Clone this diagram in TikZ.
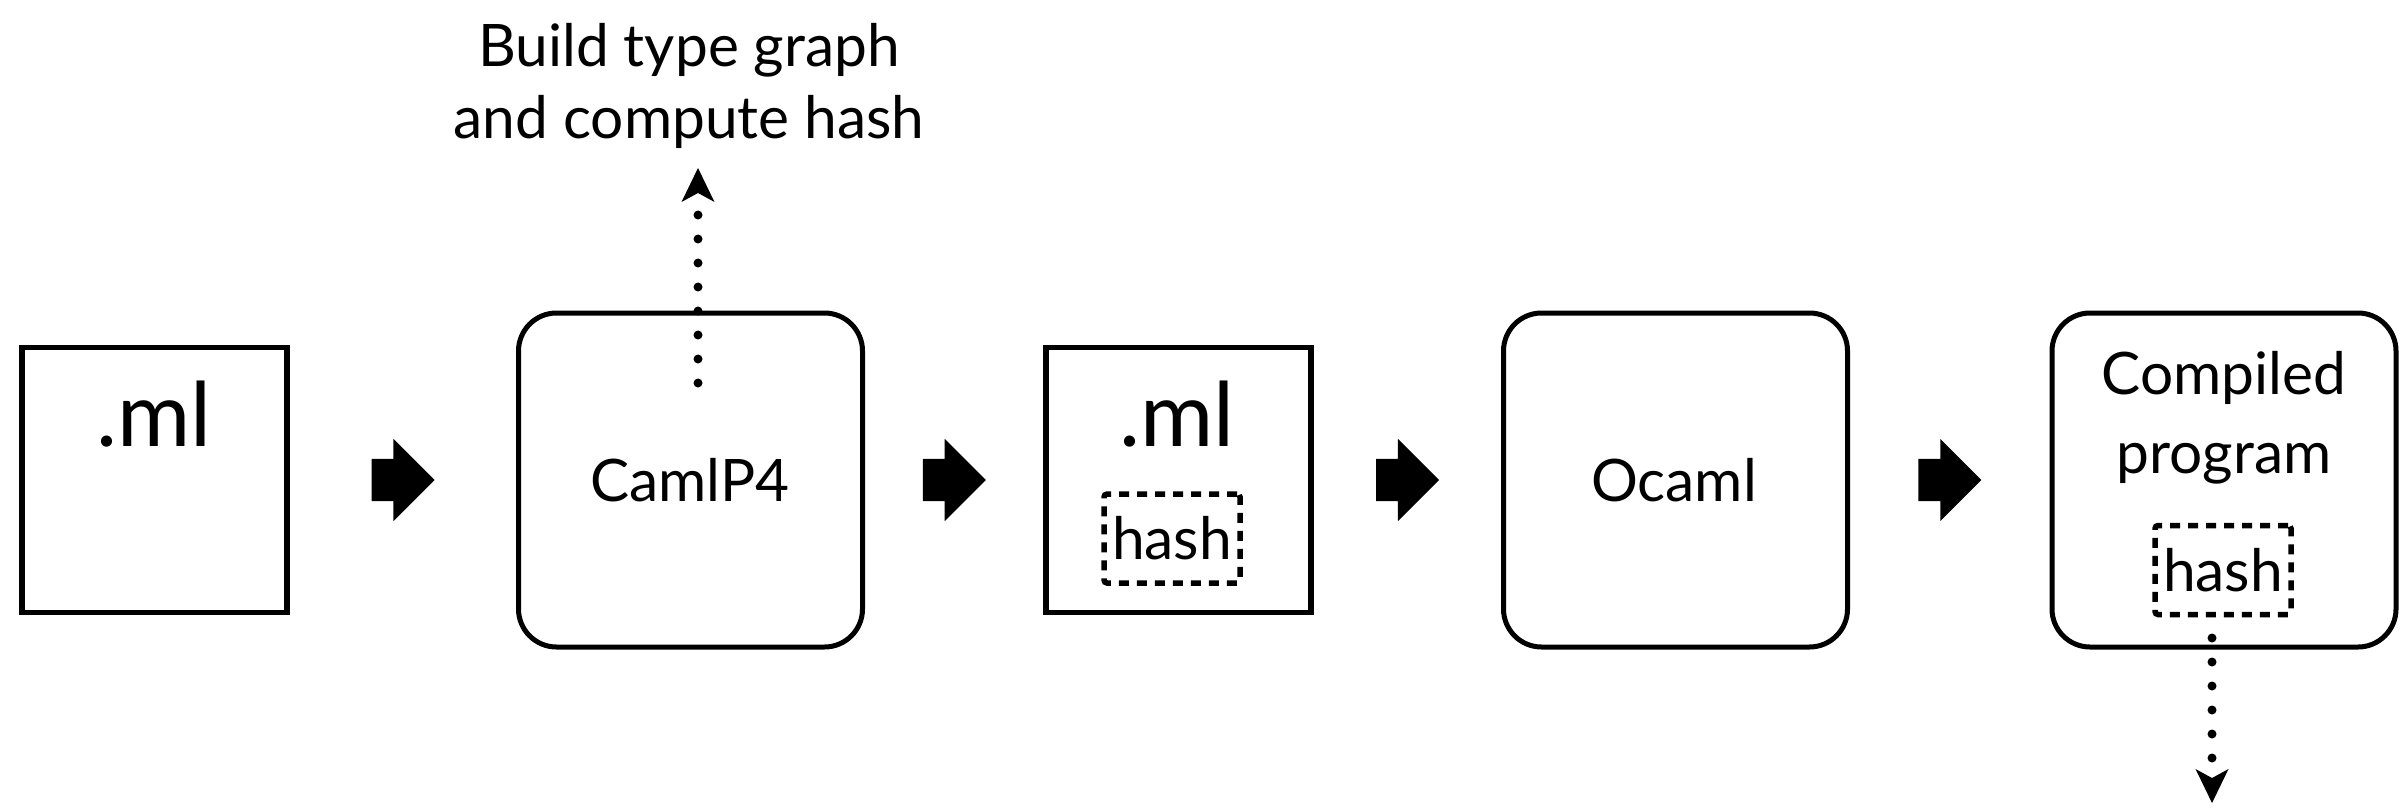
\documentclass[tikz,border=0pt]{standalone}
\usepackage{fontspec}
\setmainfont{Lato}
\usetikzlibrary{arrows.meta,shapes.arrows,calc,positioning}

\tikzset{
  file/.style={draw,line width=5.5pt,minimum width=265pt,minimum height=265pt,inner sep=0pt},
  tool/.style={draw,line width=5pt,rounded corners=38pt,minimum width=344pt,minimum height=334pt,inner sep=0pt},
  hashbox/.style={draw,line width=5.5pt,dash pattern=on 10pt off 8pt,rounded corners=3pt,
    minimum width=136pt,minimum height=89pt,inner sep=0pt},
  fatarrow/.style={single arrow,fill=black,inner xsep=0pt,inner ysep=21pt,minimum height=63pt,
    single arrow head extend=20pt,anchor=tail,xshift=-31.5pt},
  dotflow/.style={line width=9pt,line cap=round,dash pattern=on 0pt off 24pt,
    -{Stealth[length=34pt,width=33pt,inset=9pt,line width=0pt]}},
  big/.style={font=\fontsize{89}{100}\selectfont},
  txt/.style={font=\fontsize{58.6}{72}\selectfont},
}

\begin{document}
\begin{tikzpicture}[x=1pt,y=-1pt]
\useasboundingbox (0,0) rectangle (2408,808);

% the five stages
\node[file] (ml)  at (154.5,480) {};
\node[tool] (p4)  at (690.5,480) {};
\node[file] (mlh) at (1178.5,480) {};
\node[tool] (oc)  at (1675.5,480) {};
\node[tool] (bin) at (2224,480) {};

% what is written in them
\node[big,anchor=base] (mltxt)  at (154,446)  {.ml};
\node[txt]             (p4txt)  at (690,480)  {CamlP4};
\node[big,anchor=base] (mlhtxt) at (1177,446) {.ml};
\node[hashbox,txt]     (hash1)  at (1172,538.5) {hash};
\node[txt]             (octxt)  at (1674,480) {Ocaml};
\node[txt,font=\fontsize{58.6}{79}\selectfont,align=center] (bintxt) at (2224,418) {Compiled\\program};
\node[hashbox,txt]     (hash2)  at (2223,570) {hash};

% big arrows between the stages
\node[fatarrow] (a1) at ($(ml.east)!.5!(p4.west)$)  {};
\node[fatarrow] (a2) at ($(p4.east)!.5!(mlh.west)$) {};
\node[fatarrow] (a3) at ($(mlh.east)!.5!(oc.west)$) {};
\node[fatarrow] (a4) at ($(oc.east)!.5!(bin.west)$) {};

% side effects
\node[txt,align=center] (build) at (689,86) {Build type graph\\and compute hash};
\coordinate (upfrom) at (698,383);
\coordinate (upto)   at (698,168);
\coordinate (downfrom) at (2212,638);
\coordinate (downto)   at (2212,803);
\draw[dotflow] (upfrom) -- (upto);
\draw[dotflow] (downfrom) -- (downto);
\end{tikzpicture}
\end{document}
